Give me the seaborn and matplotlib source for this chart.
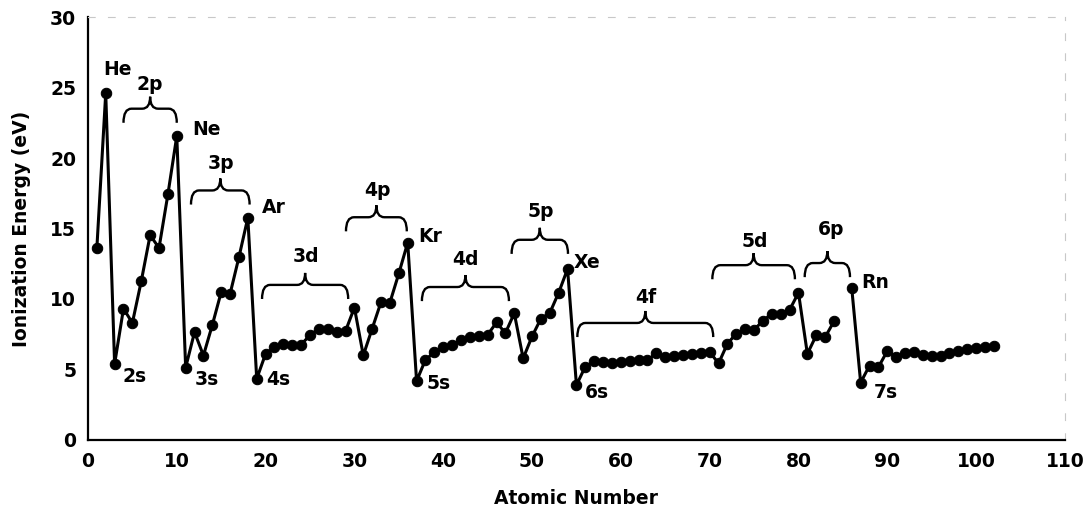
import numpy as np
import pandas as pd
import matplotlib
matplotlib.use("Agg")
import matplotlib.pyplot as plt
from matplotlib.path import Path
from matplotlib.patches import PathPatch
import seaborn as sns

# ---- data ----
atomic_number = list(range(1, 85)) + list(range(86, 103))
ionization_ev = [
    13.60, 24.59, 5.39, 9.32, 8.30, 11.26, 14.53, 13.62, 17.42, 21.56,
    5.14, 7.65, 5.99, 8.15, 10.49, 10.36, 12.97, 15.76, 4.34, 6.11,
    6.56, 6.83, 6.75, 6.77, 7.43, 7.90, 7.88, 7.64, 7.73, 9.39,
    6.00, 7.90, 9.79, 9.75, 11.81, 14.00, 4.18, 5.69, 6.22, 6.63,
    6.76, 7.09, 7.28, 7.36, 7.46, 8.34, 7.58, 8.99, 5.79, 7.34,
    8.61, 9.01, 10.45, 12.13, 3.89, 5.21, 5.58, 5.54, 5.47, 5.53,
    5.58, 5.64, 5.67, 6.15, 5.86, 5.94, 6.02, 6.11, 6.18, 6.25,
    5.43, 6.83, 7.55, 7.86, 7.83, 8.44, 8.97, 8.96, 9.23, 10.44,
    6.11, 7.42, 7.29, 8.42,
    10.75, 4.07, 5.28, 5.17, 6.31, 5.89, 6.19, 6.27, 6.03, 5.97,
    5.99, 6.20, 6.28, 6.42, 6.50, 6.58, 6.65,
]
segment = [0 if z < 85 else 1 for z in atomic_number]

# labels: text, x, y
label_text = ["He", "Ne", "Ar", "Kr", "Xe", "Rn", "2s", "3s", "4s", "5s", "6s", "7s",
              "2p", "3p", "3d", "4p", "4d", "5p", "4f", "5d", "6p"]
label_x = [3.3, 13.3, 20.9, 38.5, 56.2, 88.6, 5.3, 13.4, 21.4, 39.5, 57.3, 89.8,
           7.0, 15.0, 24.5, 32.6, 42.5, 51.0, 62.8, 75.1, 83.7]
label_y = [26.3, 22.0, 16.5, 14.4, 12.6, 11.2, 4.5, 4.3, 4.3, 4.0, 3.4, 3.4,
           25.2, 19.6, 13.0, 17.7, 12.8, 16.2, 10.1, 14.1, 14.9]

# braces: x start, x end, height of horizontal bar
brace_x0 = [4.0, 11.6, 19.6, 29.05, 37.6, 47.7, 55.1, 70.3, 80.7]
brace_x1 = [10.0, 18.2, 29.3, 35.9, 47.4, 54.05, 70.4, 79.6, 85.8]
brace_y = [23.5, 17.7, 11.0, 15.8, 10.85, 14.2, 8.3, 12.4, 12.55]

df = pd.DataFrame({"Z": atomic_number, "IE": ionization_ev, "seg": segment})

sns.set_style("white")
plt.rcParams["font.family"] = ["DejaVu Sans"]
plt.rcParams["font.weight"] = "bold"
for k in ["text.color", "axes.labelcolor", "xtick.color", "ytick.color"]:
    plt.rcParams[k] = "black"

fig = plt.figure(figsize=(10.9, 5.17), dpi=100)
ax = fig.add_axes([0.0807, 0.149, 0.8963, 0.818])

for s, sub in df.groupby("seg"):
    sns.lineplot(data=sub, x="Z", y="IE", ax=ax, color="black", lw=2.2,
                 marker="o", markersize=7.5, markeredgecolor="black",
                 markerfacecolor="black", legend=False)

for t, x, y in zip(label_text, label_x, label_y):
    ax.text(x, y, t, ha="center", va="center", fontsize=13.5, fontweight="bold",
            color="black")

def brace(ax, x0, x1, yh, drop=1.0, rise=0.85, r=0.9):
    xm = (x0 + x1) / 2
    verts = [(x0, yh - drop), (x0, yh), (x0 + r, yh),
             (xm - r, yh), (xm, yh), (xm, yh + rise),
             (xm, yh), (xm + r, yh),
             (x1 - r, yh), (x1, yh), (x1, yh - drop)]
    codes = [Path.MOVETO, Path.CURVE3, Path.CURVE3,
             Path.LINETO, Path.CURVE3, Path.CURVE3,
             Path.CURVE3, Path.CURVE3,
             Path.LINETO, Path.CURVE3, Path.CURVE3]
    ax.add_patch(PathPatch(Path(verts, codes), fill=False, lw=1.7, color="black"))

for a, b, h in zip(brace_x0, brace_x1, brace_y):
    brace(ax, a, b, h)

ax.set_xlim(0, 110)
ax.set_ylim(0, 30)
ax.set_xticks(range(0, 111, 10))
ax.set_yticks(range(0, 31, 5))
ax.tick_params(axis="both", direction="out", length=5, width=1.2, labelsize=13.5,
               color="black", labelcolor="black")
for lab in ax.get_xticklabels() + ax.get_yticklabels():
    lab.set_fontweight("bold")
ax.set_xlabel("Atomic Number", fontsize=13.5, fontweight="bold", labelpad=13, color="black")
ax.set_ylabel("Ionization Energy (eV)", fontsize=13.5, fontweight="bold", labelpad=14, color="black")

for side in ["left", "bottom"]:
    ax.spines[side].set_color("black")
    ax.spines[side].set_linewidth(1.6)
for side in ["top", "right"]:
    ax.spines[side].set_color("#c8c8c8")
    ax.spines[side].set_linewidth(0.8)
    ax.spines[side].set_linestyle((0, (6, 12)))

fig.savefig("out.png", dpi=100)
